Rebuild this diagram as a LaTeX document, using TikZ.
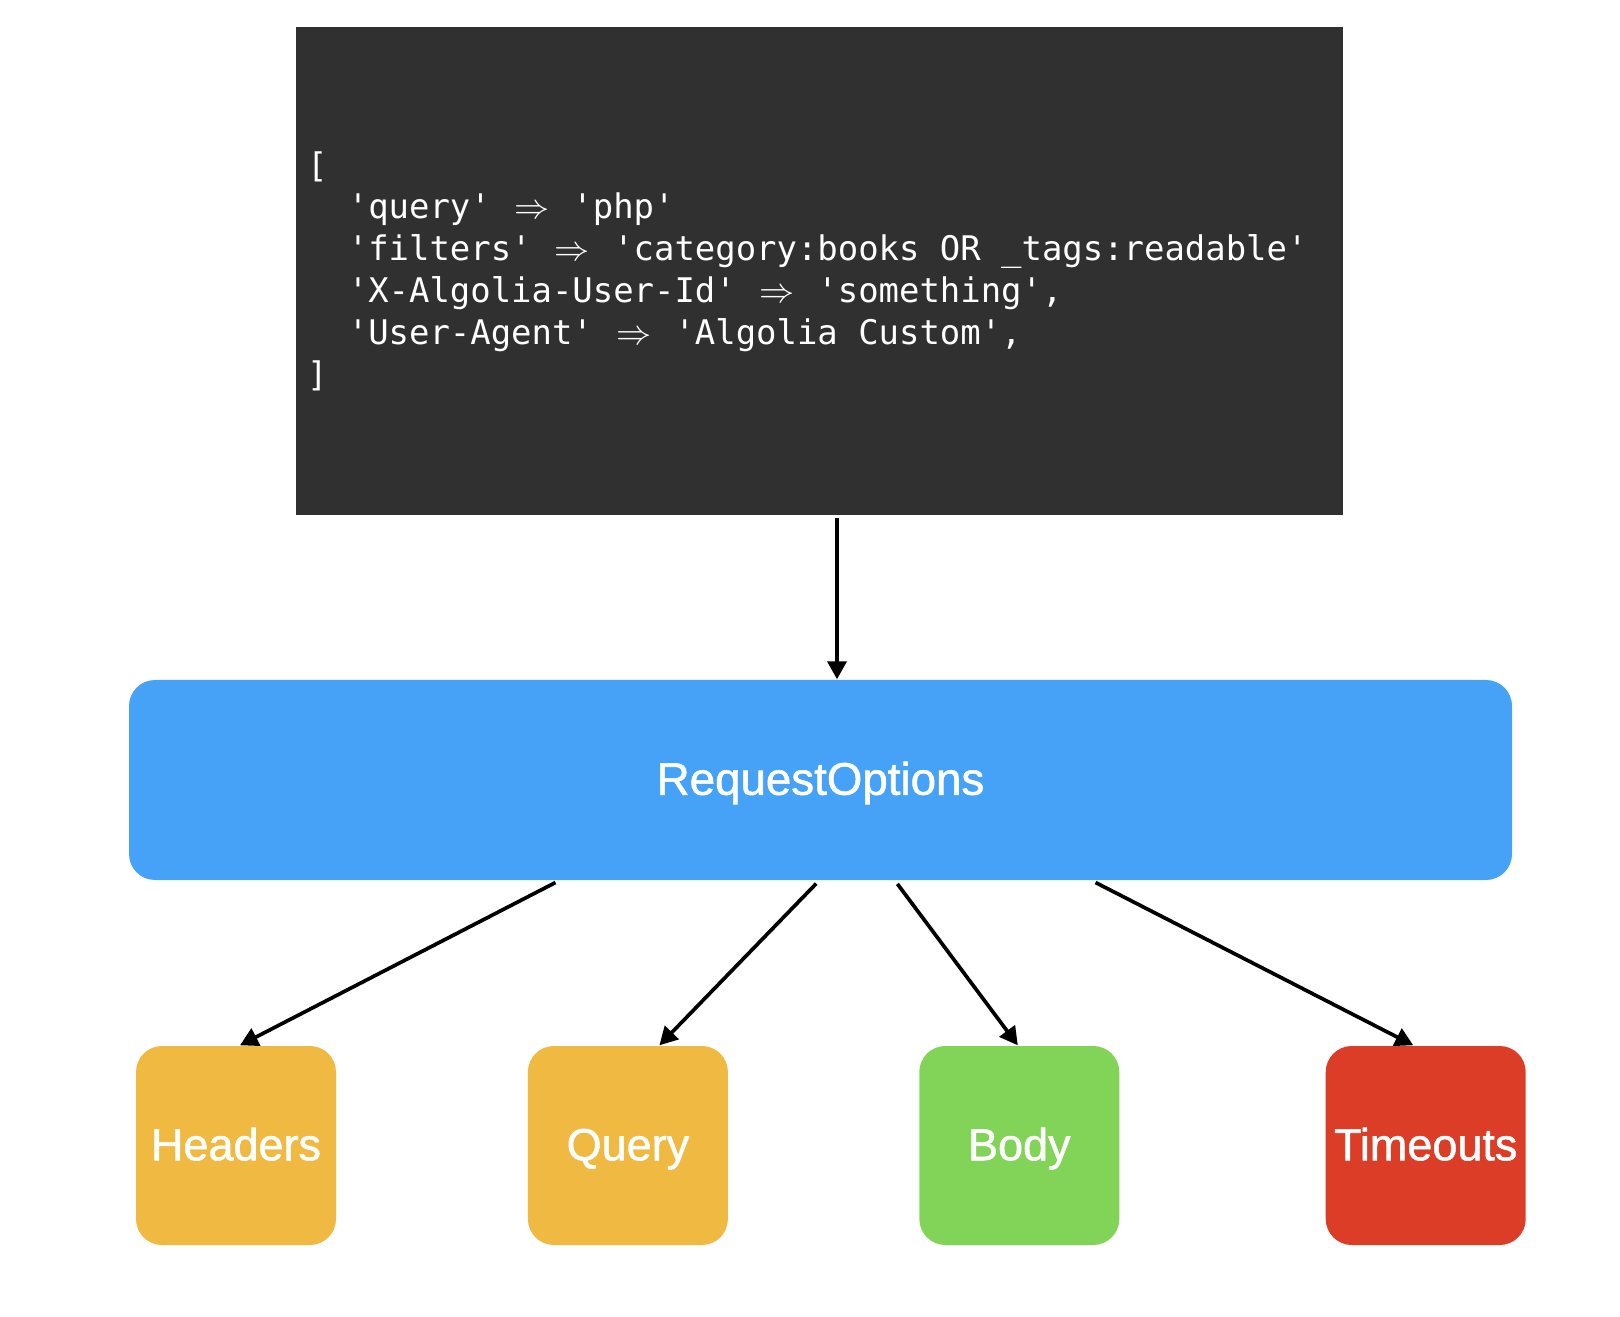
\documentclass[tikz,border=0pt]{standalone}
\usepackage{fontspec}
\setmainfont{Liberation Sans}[FakeBold=1.2]
\setmonofont{DejaVu Sans Mono}
\usetikzlibrary{positioning, arrows.meta}
\definecolor{codeGray}{RGB}{48,48,48}
\definecolor{optBlue}{RGB}{69,162,247}
\definecolor{leafYellow}{RGB}{240,186,66}
\definecolor{leafGreen}{RGB}{130,212,88}
\definecolor{leafRed}{RGB}{220,61,39}
\tikzset{CodeBlock/.style={%
    fill=codeGray,%
    text=white,%
    minimum width=10.47cm,%
    minimum height=4.88cm,%
    text width=10.25cm,%
    inner sep=0.11cm,%
    align=left,%
    font=\ttfamily\fontsize{9.65}{11.9}\selectfont,%
}}
\tikzset{OptionBox/.style={%
    fill=optBlue,%
    text=white,%
    rounded corners=0.26cm,%
    minimum width=13.83cm,%
    minimum height=2.0cm,%
    inner sep=0pt,%
    text height=0.84em,%
    text depth=0pt,%
    font=\fontsize{13}{15}\selectfont,%
}}
\tikzset{LeafBox/.style={%
    text=white,%
    rounded corners=0.26cm,%
    minimum width=2.0cm,%
    minimum height=1.99cm,%
    inner sep=0pt,%
    text height=0.84em,%
    text depth=0pt,%
    font=\fontsize{12.8}{15}\selectfont,%
}}
\tikzset{NormalEdge/.style={%
    -{Triangle[length=0.18cm, width=0.19cm]},
    line width=1.05pt,%
}}
\newcommand{\codeIndent}{\hspace*{1.204em}}
\newcommand{\codeArrow}{\makebox[1.204em]{$\Rightarrow$}}
\newcommand{\codeSpacing}{\spaceskip=0.602em\relax\xspaceskip=0.602em\relax}

\begin{document}
\begin{tikzpicture}
    \useasboundingbox (0,0) rectangle (16.2,13.16);
    \node[CodeBlock] (code) at (8.195,10.45) {\codeSpacing
        [\\
        \codeIndent'query' \codeArrow{} 'php'\\
        \codeIndent'filters' \codeArrow{} 'category:books OR \_tags:readable'\\
        \codeIndent'X-Algolia-User-Id' \codeArrow{} 'something',\\
        \codeIndent'User-Agent' \codeArrow{} 'Algolia Custom',\\
        ]};
    \node[OptionBox] (opts) at (8.205,5.36) {RequestOptions};
    \node[LeafBox, fill=leafYellow] (headers) at (2.36,1.705) {Headers};
    \node[LeafBox, fill=leafYellow, right=1.905cm of headers] (query) {Query};
    \node[LeafBox, fill=leafGreen, right=1.90cm of query] (body) {Body};
    \node[LeafBox, fill=leafRed, right=2.05cm of body] (timeouts) {Timeouts};

    \draw[NormalEdge, shorten <=0.02cm] ([xshift=0.175cm]code.south) -- ([xshift=0.175cm]code.south |- opts.north);
    \draw[NormalEdge, shorten <=0.04cm] ([xshift=-2.615cm]opts.south) -- ([xshift=0.04cm]headers.north);
    \draw[NormalEdge, shorten <=0.04cm] ([xshift=-0.015cm]opts.south) -- ([xshift=0.315cm]query.north);
    \draw[NormalEdge, shorten <=0.04cm] ([xshift=0.745cm]opts.south) -- ([xshift=-0.015cm]body.north);
    \draw[NormalEdge, shorten <=0.04cm] ([xshift=2.715cm]opts.south) -- ([xshift=-0.125cm]timeouts.north);
\end{tikzpicture}
\end{document}
